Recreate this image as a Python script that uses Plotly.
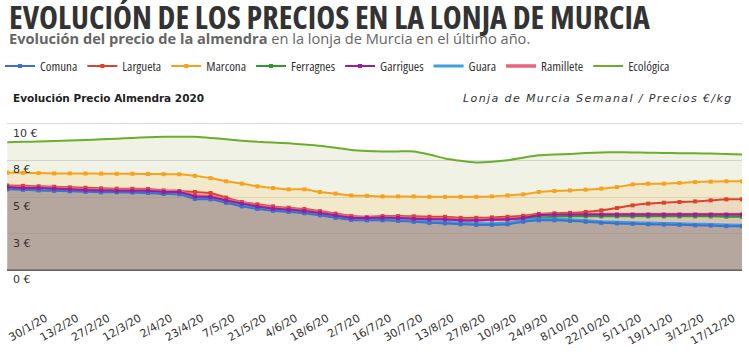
import plotly.graph_objects as go

dates = ["16/1/20", "23/1/20", "30/1/20", "6/2/20", "13/2/20", "20/2/20", "27/2/20", "5/3/20",
         "12/3/20", "26/3/20", "2/4/20", "16/4/20", "23/4/20", "30/4/20", "7/5/20", "14/5/20",
         "21/5/20", "28/5/20", "4/6/20", "11/6/20", "18/6/20", "25/6/20", "2/7/20", "9/7/20",
         "16/7/20", "23/7/20", "30/7/20", "6/8/20", "13/8/20", "20/8/20", "27/8/20", "3/9/20",
         "10/9/20", "17/9/20", "24/9/20", "1/10/20", "8/10/20", "15/10/20", "22/10/20", "29/10/20",
         "5/11/20", "12/11/20", "19/11/20", "26/11/20", "3/12/20", "10/12/20", "17/12/20", "24/12/20"]

ecologica = [8.73, 8.76, 8.79, 8.82, 8.86, 8.89, 8.93, 8.98, 9.03, 9.07, 9.10, 9.11, 9.10, 9.03, 8.93, 8.84,
             8.76, 8.71, 8.66, 8.58, 8.49, 8.36, 8.21, 8.14, 8.11, 8.11, 8.11, 7.90, 7.63, 7.47, 7.36, 7.40,
             7.50, 7.68, 7.84, 7.90, 7.94, 8.00, 8.04, 8.05, 8.04, 8.02, 8.00, 7.99, 7.98, 7.96, 7.94, 7.90]
marcona = [6.66, 6.65, 6.63, 6.61, 6.61, 6.60, 6.59, 6.58, 6.58, 6.57, 6.56, 6.55, 6.44, 6.29, 6.07, 5.91,
           5.73, 5.61, 5.52, 5.52, 5.34, 5.23, 5.11, 5.08, 5.04, 5.04, 5.04, 5.01, 5.01, 5.01, 5.01, 5.04,
           5.11, 5.18, 5.34, 5.41, 5.45, 5.50, 5.57, 5.68, 5.86, 5.91, 5.91, 5.96, 6.02, 6.05, 6.07, 6.07]
largueta = [5.79, 5.76, 5.73, 5.70, 5.66, 5.63, 5.59, 5.57, 5.56, 5.55, 5.45, 5.41, 5.34, 5.27, 4.96, 4.66,
            4.50, 4.36, 4.27, 4.18, 4.04, 3.87, 3.70, 3.63, 3.70, 3.70, 3.68, 3.65, 3.65, 3.58, 3.58, 3.61,
            3.65, 3.72, 3.85, 3.89, 3.92, 3.98, 4.09, 4.25, 4.43, 4.55, 4.61, 4.66, 4.70, 4.77, 4.84, 4.84]
garrigues = [5.68, 5.61, 5.61, 5.57, 5.52, 5.47, 5.45, 5.43, 5.43, 5.43, 5.34, 5.34, 5.04, 5.00, 4.77, 4.55,
             4.36, 4.21, 4.14, 4.04, 3.91, 3.75, 3.59, 3.57, 3.59, 3.57, 3.52, 3.48, 3.48, 3.41, 3.41, 3.46,
             3.48, 3.57, 3.75, 3.80, 3.80, 3.80, 3.80, 3.80, 3.80, 3.80, 3.80, 3.80, 3.80, 3.80, 3.80, 3.80]
ramillete = [5.72, 5.65, 5.65, 5.61, 5.56, 5.51, 5.49, 5.47, 5.47, 5.47, 5.38, 5.38, 5.08, 5.04, 4.81, 4.59,
             4.40, 4.25, 4.18, 4.08, 3.95, 3.79, 3.63, 3.61, 3.62, 3.60, 3.55, 3.51, 3.51, 3.44, 3.44, 3.48,
             3.50, 3.58, 3.76, 3.80, 3.80, 3.80, 3.80, 3.80, 3.80, 3.80, 3.80, 3.80, 3.80, 3.80, 3.80, 3.80]
comuna = [5.52, 5.49, 5.45, 5.42, 5.39, 5.35, 5.32, 5.32, 5.30, 5.28, 5.21, 5.18, 4.87, 4.84, 4.60, 4.36,
          4.19, 4.06, 3.99, 3.89, 3.75, 3.58, 3.44, 3.41, 3.41, 3.37, 3.31, 3.24, 3.20, 3.14, 3.10, 3.10,
          3.14, 3.31, 3.41, 3.41, 3.37, 3.31, 3.24, 3.20, 3.17, 3.14, 3.12, 3.10, 3.07, 3.05, 3.01, 3.00]
guara = [5.60, 5.57, 5.53, 5.50, 5.47, 5.43, 5.40, 5.40, 5.38, 5.36, 5.29, 5.26, 4.95, 4.92, 4.68, 4.44,
         4.27, 4.14, 4.07, 3.97, 3.83, 3.66, 3.52, 3.49, 3.49, 3.45, 3.39, 3.32, 3.28, 3.22, 3.18, 3.18,
         3.22, 3.39, 3.49, 3.49, 3.45, 3.39, 3.32, 3.28, 3.25, 3.22, 3.20, 3.18, 3.15, 3.13, 3.09, 3.08]
ferragnes = [5.56, 5.53, 5.49, 5.46, 5.43, 5.39, 5.36, 5.36, 5.34, 5.32, 5.25, 5.22, 4.91, 4.88, 4.64, 4.40,
             4.23, 4.10, 4.03, 3.93, 3.79, 3.62, 3.48, 3.45, 3.45, 3.41, 3.35, 3.28, 3.24, 3.18, 3.14, 3.14,
             3.20, 3.48, 3.60, 3.66, 3.68, 3.68, 3.68, 3.68, 3.68, 3.68, 3.68, 3.68, 3.68, 3.68, 3.66, 3.65]

y_ticks = [-2.5, 0, 2.5, 5, 7.5, 10, 12.5]
y_labels = ["", "0 €", "3 €", "5 €", "8 €", "10 €", ""]

fig = go.Figure()

# translucent area fills (drawn first, beneath all lines)
fills = [
    (ecologica, "rgba(150,170,80,0.15)"),
    (marcona, "rgba(252,210,130,0.26)"),
    (largueta, "rgba(205,165,150,0.22)"),
    (garrigues, "rgba(170,120,140,0.22)"),
    (comuna, "rgba(115,115,118,0.36)"),
]
for vals, col in fills:
    fig.add_trace(go.Scatter(x=dates, y=vals, mode="lines", fill="tozeroy", fillcolor=col,
                             line=dict(width=0, shape="spline", smoothing=0.5),
                             showlegend=False, hoverinfo="skip"))

series = [
    # name, values, color, width, marker, legendrank
    ("Ecológica", ecologica, "#6aae2a", 2, False, 8),
    ("Marcona", marcona, "#f7a21b", 2, True, 3),
    ("Largueta", largueta, "#e0412b", 2, True, 2),
    ("Ramillete", ramillete, "#e8637c", 3.5, False, 7),
    ("Ferragnes", ferragnes, "#2b9a2b", 2, True, 4),
    ("Guara", guara, "#3aa0e0", 3, False, 6),
    ("Comuna", comuna, "#3b72d0", 2, True, 1),
    ("Garrigues", garrigues, "#95209a", 2, True, 5),
]
for name, vals, col, w, mk, rank in series:
    fig.add_trace(go.Scatter(
        x=dates, y=vals,
        name=f"<span style='font-stretch:87.5%'>{name}</span>", legendrank=rank,
        mode="lines+markers" if mk else "lines",
        line=dict(color=col, width=w, shape="spline", smoothing=0.5),
        marker=dict(size=4, color=col, symbol="square"),
    ))

fig.update_layout(
    width=749, height=355,
    margin=dict(l=7, r=7, t=87, b=48),
    paper_bgcolor="white", plot_bgcolor="white",
    font=dict(family="DejaVu Sans", color="#333"),
    showlegend=True,
    legend=dict(orientation="h", xref="container", yref="container",
                x=-0.006, xanchor="left", y=0.814, yanchor="middle",
                font=dict(family="Open Sans", size=13, color="#333"),
                itemwidth=30, traceorder="normal", bgcolor="rgba(0,0,0,0)", tracegroupgap=0),
    xaxis=dict(type="category", categoryorder="array", categoryarray=dates,
               range=[-0.02, len(dates) - 1], tickmode="array",
               tickvals=dates[::2], ticktext=dates[::2], automargin=False,
               tickangle=-30, tickfont=dict(size=11, color="#333", family="DejaVu Sans"),
               showgrid=False, showline=False, zeroline=False, ticks="",
               ticklabelshift=7, ticklabelstandoff=2, ticklabeloverflow="allow"),
    yaxis=dict(range=[-2.5, 12.5], tickmode="array", tickvals=y_ticks, ticktext=y_labels,
               showgrid=True, gridcolor="#dcdcdc", gridwidth=1, automargin=False,
               zeroline=True, zerolinecolor="#555", zerolinewidth=1.5,
               ticklabelposition="inside", ticklabelshift=9, ticklabelstandoff=3,
               tickfont=dict(size=11, color="#333", family="DejaVu Sans"),
               showline=False, ticks=""),
    annotations=[
        dict(xref="paper", yref="paper", x=0, y=1.32, xanchor="left", yanchor="middle",
             text="<b><span style='font-stretch:75%'>EVOLUCIÓN DE LOS PRECIOS EN LA LONJA DE MURCIA</span></b>",
             showarrow=False,
             font=dict(family="Open Sans", size=32, color="#333")),
        dict(xref="paper", yref="paper", x=0, y=1.222, xanchor="left", yanchor="middle",
             text="<b>Evolución del precio de la almendra</b> en la lonja de Murcia en el último año.",
             showarrow=False, font=dict(family="Open Sans", size=14.6, color="#666")),
        dict(xref="paper", yref="paper", x=0.006, y=0.95, xanchor="left", yanchor="middle",
             text="<b>Evolución Precio Almendra 2020</b>", showarrow=False,
             font=dict(family="DejaVu Sans", size=10.5, color="#222")),
        dict(xref="paper", yref="paper", x=0.99, y=0.95, xanchor="right", yanchor="middle",
             text="<i><span style='letter-spacing:1.4px'>Lonja de Murcia Semanal / Precios €/kg</span></i>",
             showarrow=False, font=dict(family="DejaVu Sans", size=11, color="#333")),
    ],
)

fig.write_html("out.html", config={"displayModeBar": False},
               post_script="document.body.style.margin='0';")
